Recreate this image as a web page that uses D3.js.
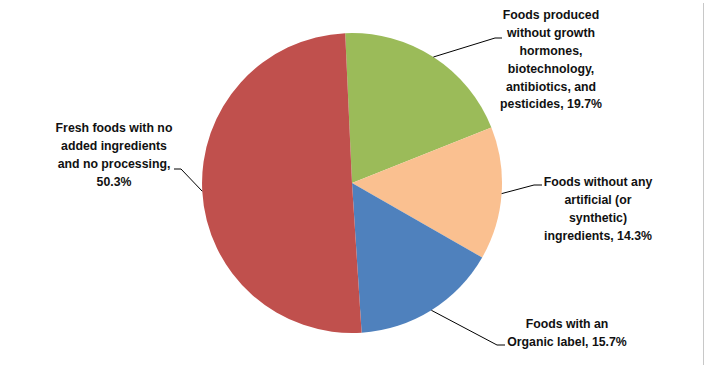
<!DOCTYPE html>
<html>
<head>
<meta charset="utf-8">
<script src="https://cdn.jsdelivr.net/npm/d3@7"></script>
<style>
  body { margin: 0; background: #fff; }
  svg { display: block; }
</style>
</head>
<body>
<div id="chart"></div>
<script>
// slice order: clockwise from the top
const categories = [
    "Foods produced without growth hormones, biotechnology, antibiotics, and pesticides",
    "Foods without any artificial (or synthetic) ingredients",
    "Foods with an Organic label",
    "Fresh foods with no added ingredients and no processing"
];
const shares = [19.7, 14.3, 15.7, 50.3];
const colors = ["#9BBB59", "#FAC090", "#4F81BD", "#C0504D"];
// label text as it wraps in the picture
const labelLines = [
    ["Foods produced", "without growth", "hormones,", "biotechnology,", "antibiotics, and", "pesticides, 19.7%"],
    ["Foods without any", "artificial (or", "synthetic)", "ingredients, 14.3%"],
    ["Foods with an", "Organic label, 15.7%"],
    ["Fresh foods with no", "added ingredients", "and no processing,", "50.3%"]
];

const width = 705, height = 368;
const cx = 352, cy = 183, radius = 150;

// where each label block sits and where its leader line bends
const labelPos = [
    { x: 551, y: 15, elbow: [495, 38], end: [502, 38] },
    { x: 598, y: 182, elbow: [534, 185], end: [542, 185] },
    { x: 567, y: 324, elbow: [497, 345], end: [505, 345] },
    { x: 114, y: 128, elbow: [181, 169], end: [174, 169] }
];
const lineH = 17.8;

const svg = d3.select("#chart").append("svg")
    .attr("width", width)
    .attr("height", height);

// thin frame line on the right edge
svg.append("line")
    .attr("x1", 703.5).attr("x2", 703.5)
    .attr("y1", 3).attr("y2", 365)
    .attr("stroke", "#c8c8c8");

const startA = -2.6 * Math.PI / 180;
const pie = d3.pie().sort(null)
    .startAngle(startA)
    .endAngle(startA + 2 * Math.PI)
    .value(d => d);

const arc = d3.arc().innerRadius(0).outerRadius(radius);

const g = svg.append("g").attr("transform", `translate(${cx},${cy})`);
const arcs = pie(shares);

g.selectAll("path.slice")
    .data(arcs)
    .enter().append("path")
    .attr("class", "slice")
    .attr("d", arc)
    .attr("fill", (d, i) => colors[i]);

// leader lines
svg.selectAll("polyline.leader")
    .data(arcs)
    .enter().append("polyline")
    .attr("class", "leader")
    .attr("fill", "none")
    .attr("stroke", "#000")
    .attr("stroke-width", 1)
    .attr("points", (d, i) => {
        const a = (d.startAngle + d.endAngle) / 2;
        const p = [cx + radius * Math.sin(a), cy - radius * Math.cos(a)];
        const lp = labelPos[i];
        return [p, lp.elbow, lp.end].map(q => q.join(",")).join(" ");
    });

// labels
labelLines.forEach((lines, i) => {
    const t = svg.append("text")
        .attr("text-anchor", "middle")
        .attr("font-family", "'Liberation Sans', Arial, sans-serif")
        .attr("font-weight", "bold")
        .attr("font-size", "12.3px")
        .attr("fill", "#111");
    lines.forEach((s, j) => {
        t.append("tspan")
            .attr("x", labelPos[i].x)
            .attr("y", labelPos[i].y + j * lineH)
            .attr("dy", "0.35em")
            .text(s);
    });
});
</script>
</body>
</html>
